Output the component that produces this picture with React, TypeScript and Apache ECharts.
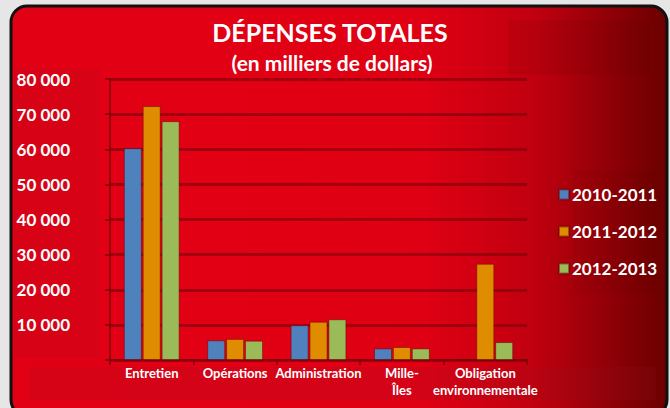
import React, { useEffect, useRef } from "react";
import * as echarts from "echarts";

const categories = ["Entretien", "Opérations", "Administration", "Mille-\nÎles", "Obligation\nenvironnementale"];
const seriesNames = ["2010-2011", "2011-2012", "2012-2013"];
const s2010 = [60300, 5600, 9900, 3300, 0];
const s2011 = [72300, 6000, 10900, 3700, 27400];
const s2012 = [68000, 5500, 11600, 3300, 5100];
const colors = ["#4f81bd", "#e08c00", "#9bbb59"];
const titleText = "DÉPENSES TOTALES";
const subtitleText = "(en milliers de dollars)";

const FONT = "Lato, 'Open Sans', sans-serif";

export default function App() {
  const ref = useRef<HTMLDivElement>(null);
  useEffect(() => {
    const chart = echarts.init(ref.current!, null, { renderer: "svg" });
    const data = [s2010, s2011, s2012];
    chart.setOption({
      animation: false,
      backgroundColor: "#e6e6e6",
      graphic: [
        {
          type: "rect",
          z: -10,
          shape: { x: 11, y: 6, width: 656, height: 410, r: 16 },
          style: {
            fill: new echarts.graphic.LinearGradient(0, 0, 1, 0, [
              { offset: 0, color: "#e20014" },
              { offset: 0.62, color: "#e00014" },
              { offset: 0.8, color: "#c0000f" },
              { offset: 1, color: "#6a0000" },
            ]),
            stroke: "#111",
            lineWidth: 3,
          },
        },
        {
          type: "rect",
          z: -9,
          shape: { x: 14, y: 68, width: 86, height: 290 },
          style: { fill: "rgba(150,20,40,0.12)" },
        },
        {
          type: "rect",
          z: -9,
          shape: { x: 29, y: 367, width: 627, height: 33 },
          style: { fill: "rgba(150,20,40,0.15)" },
        },
        {
          type: "rect",
          z: -9,
          shape: { x: 508, y: 20, width: 142, height: 55 },
          style: { fill: "rgba(60,0,0,0.07)" },
        },
        {
          type: "rect",
          z: -9,
          shape: { x: 573, y: 170, width: 84, height: 123 },
          style: { fill: "rgba(60,0,0,0.06)" },
        },
        {
          type: "text",
          x: 330,
          y: 32,
          style: {
            text: titleText,
            fill: "#fff",
            font: `bold 25px ${FONT}`,
            textAlign: "center",
            textVerticalAlign: "middle",
          },
        },
        {
          type: "text",
          x: 332,
          y: 62,
          style: {
            text: subtitleText,
            fill: "#fff",
            font: `bold 21px ${FONT}`,
            textAlign: "center",
            textVerticalAlign: "middle",
          },
        },
      ],
      legend: {
        orient: "vertical",
        left: 553,
        top: 181,
        itemGap: 20,
        itemWidth: 10,
        itemHeight: 10,
        icon: "rect",
        textStyle: { color: "#fff", fontSize: 17, fontWeight: "bold", fontFamily: FONT, padding: [0, 0, 0, -2] },
        data: seriesNames,
      },
      grid: { left: 110, right: 143, top: 79, bottom: 48 },
      xAxis: {
        type: "category",
        data: categories,
        axisLine: { show: true, lineStyle: { color: "rgba(120,0,10,0.7)", width: 2 } },
        axisTick: { show: true, length: 5, lineStyle: { color: "rgba(120,0,10,0.7)", width: 2 } },
        axisLabel: {
          interval: 0,
          color: "#fff",
          fontSize: 13,
          fontWeight: "bold",
          fontFamily: FONT,
          lineHeight: 17,
          margin: 4,
        },
      },
      yAxis: {
        type: "value",
        min: 0,
        max: 80000,
        interval: 10000,
        axisLine: { show: true, lineStyle: { color: "rgba(120,0,10,0.7)", width: 2 } },
        axisTick: { show: true, length: 5, lineStyle: { color: "rgba(120,0,10,0.7)", width: 2 } },
        splitLine: { show: true, lineStyle: { color: "rgba(120,0,10,0.6)", width: 3 } },
        axisLabel: {
          color: "#fff",
          fontSize: 17,
          fontWeight: "bold",
          fontFamily: FONT,
          margin: 40,
          formatter: (v: number) => (v === 0 ? "" : `${Math.floor(v / 1000)} 000`),
        },
      },
      series: seriesNames.map((name, i) => ({
        name,
        type: "bar",
        data: data[i],
        barWidth: 18,
        barGap: "5%",
        itemStyle: {
          color: colors[i],
          borderColor: "rgba(90,0,0,0.45)",
          borderWidth: 1,
        },
      })),
    });
    return () => chart.dispose();
  }, []);
  return (
    <div
      ref={ref}
      style={{ position: "absolute", left: 0, top: 0, width: 670, height: 408 }}
    />
  );
}
